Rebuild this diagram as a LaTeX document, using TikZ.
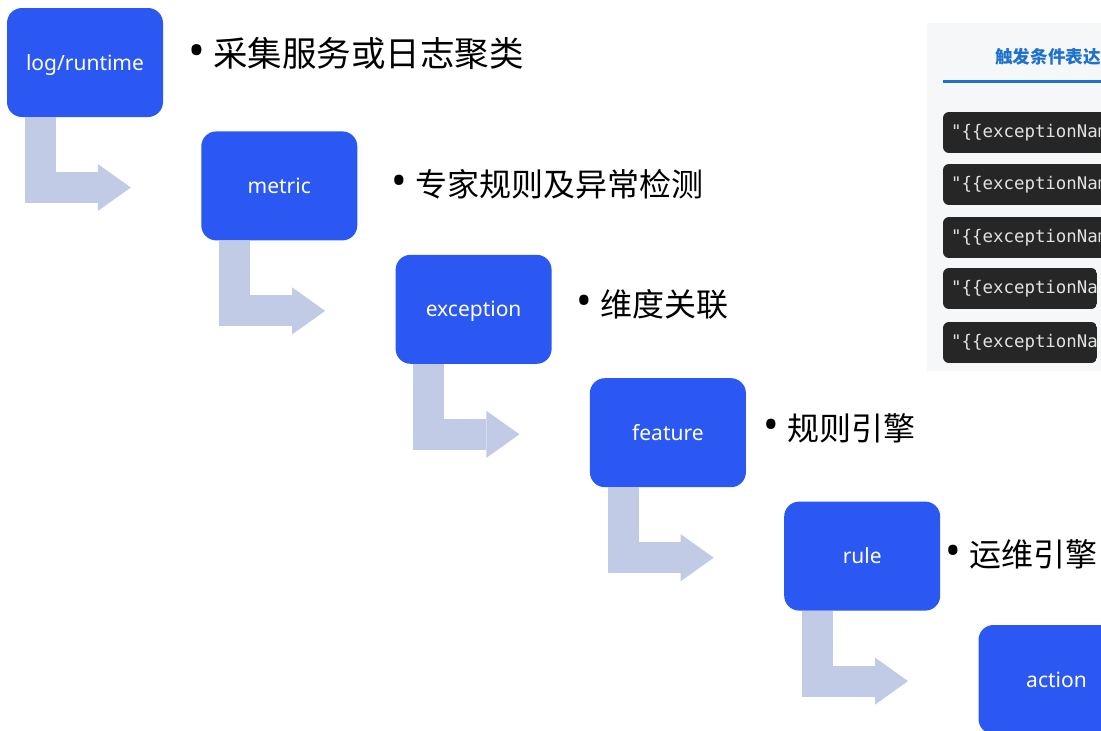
\documentclass[tikz,border=0pt]{standalone}
\usepackage{fontspec}
\setmainfont{Noto Sans}
\newfontfamily\cjk{Noto Sans CJK SC}
\newfontfamily\bulfont{Noto Sans}
\newfontfamily\codefont{DejaVu Sans Mono}
\usetikzlibrary{calc,arrows.meta}
\definecolor{boxblue}{HTML}{2B57F2}
\definecolor{flow}{HTML}{C1CBE5}
\definecolor{panelbg}{HTML}{F6F7F9}
\definecolor{titleblue}{HTML}{1F72CC}
\definecolor{codebg}{HTML}{262626}
\definecolor{codetext}{HTML}{E2E2E2}
\newcommand{\bul}[1]{\makebox[#1][l]{\raisebox{0.02em}{\scalebox{1.3}{\bulfont •}}}}
\begin{document}
\begin{tikzpicture}[x=1pt,y=-1pt,
  stage/.style={fill=boxblue, rounded corners=15pt, minimum width=156pt, minimum height=109pt,
    inner sep=0pt, text=white, text height=19pt, text depth=4pt, font=\fontsize{21}{25}\selectfont},
  bent/.style={draw=flow, line width=31pt, line join=miter,
    -{Triangle[width=47pt,length=33pt,line width=0pt]}},
  note/.style={anchor=west, inner sep=0pt, text=black},
  codeline/.style={anchor=west, inner sep=0pt, text=codetext, font=\codefont\fontsize{17.4}{20}\selectfont},
]
\useasboundingbox (0,0) rectangle (1101,731);
\clip (0,0) rectangle (1101,731);
\fill[white] (0,0) rectangle (1101,731);

% right screenshot panel
\fill[panelbg] (927,23) rectangle (1101,371);
\node[anchor=west, inner sep=0pt, text=titleblue, font=\cjk\bfseries\fontsize{17.6}{20}\selectfont] (title) at (995,57) {触发条件表达式};
\draw[titleblue, line width=3pt] (943,81) -- (1101,81);
\foreach \i/\y/\r in {1/112/1115,2/164/1115,3/217/1115,4/268/1097,5/322/1097} {
  \begin{scope}
    \path[clip, rounded corners=6pt] (943,\y) rectangle (\r,\y+41);
    \fill[codebg] (943,\y) rectangle (\r,\y+41);
    \node[codeline] (c\i) at (951,\y+21) {"\{\{exceptionName\}\}"};
  \end{scope}
}

% stages
\node[stage] (b0) at (85,62.5) {log/runtime};
\node[stage] (b1) at (279.3,185.9) {metric};
\node[stage] (b2) at (473.6,309.3) {exception};
\node[stage] (b3) at (667.9,432.7) {feature};
\node[stage] (b4) at (862.2,556.1) {rule};
\node[stage] (b5) at (1056.5,679.5) {action};

% bent arrows
\foreach \a/\b in {b0/b1,b1/b2,b2/b3,b3/b4,b4/b5} {
  \draw[bent] ($(\a.south west)+(33.5,0)$) |- ($(\b.west)+(-70.3,1.6)$);
}

% notes
\node[note, font=\cjk\fontsize{34.5}{40}\selectfont] (t0) at (188,54) {\bul{25pt}采集服务或日志聚类};
\node[note, font=\cjk\fontsize{32}{38}\selectfont] (t1) at (391,184) {\bul{24pt}专家规则及异常检测};
\node[note, font=\cjk\fontsize{32}{38}\selectfont] (t2) at (576,304) {\bul{24pt}维度关联};
\node[note, font=\cjk\fontsize{32}{38}\selectfont] (t3) at (763,428) {\bul{24pt}规则引擎};
\node[note, font=\cjk\fontsize{32}{38}\selectfont] (t4) at (945,554) {\bul{24pt}运维引擎};
\end{tikzpicture}
\end{document}
